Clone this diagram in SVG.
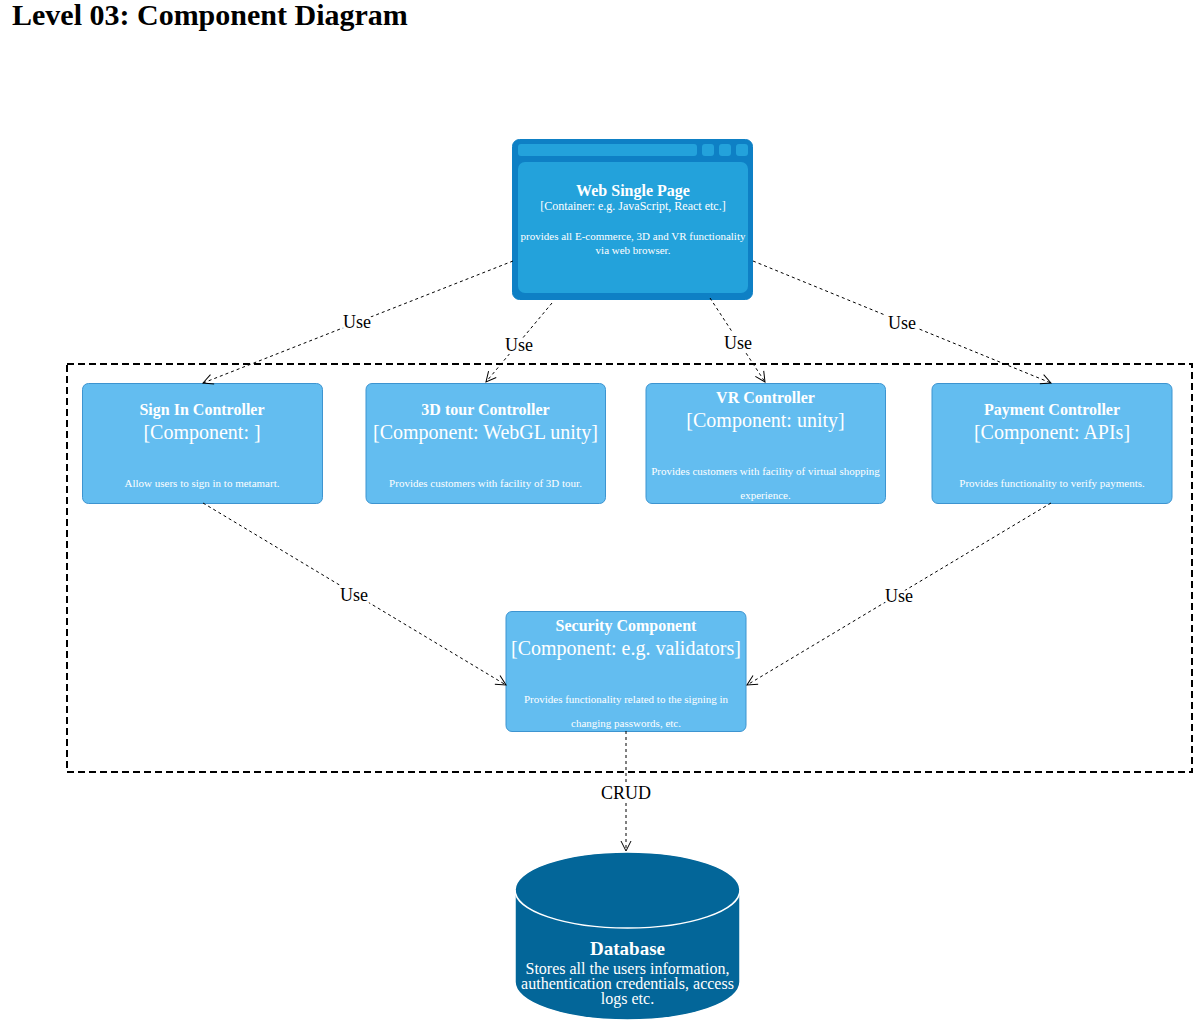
<svg xmlns="http://www.w3.org/2000/svg" width="1194" height="1024" viewBox="0 0 1194 1024">
<defs>
<style>
text{font-family:"Liberation Serif","Times New Roman",serif;text-anchor:middle}
.title{font-size:30px;font-weight:bold;text-anchor:start;fill:#000}
.comp{fill:#63bdf0;stroke:#3d94d0;stroke-width:1}
.nt{font-size:16px;font-weight:bold;fill:#fff}
.tech{font-size:20px;fill:#fff}
.desc{font-size:11px;fill:#fff}
.conn{fill:none;stroke:#000;stroke-width:1;stroke-dasharray:3,3}
.lbl{font-size:18px;fill:#000;stroke:#fff;stroke-width:6;paint-order:stroke;stroke-linejoin:round}
</style>
<marker id="arr" viewBox="0 0 12 12" refX="11" refY="6" markerWidth="12" markerHeight="12" markerUnits="userSpaceOnUse" orient="auto">
<path d="M1,1 L11,6 L1,11" fill="none" stroke="#000" stroke-width="1"/>
</marker>
</defs>
<rect width="1194" height="1024" fill="#fff"/>
<text class="title" x="12" y="25">Level 03: Component Diagram</text>

<g id="boundary">
<rect x="67" y="364" width="1125" height="408" fill="none" stroke="#000" stroke-width="2" stroke-dasharray="7,4"/>
</g>

<g id="web-single-page">
<rect x="512.5" y="139.5" width="240" height="160" rx="7" fill="#0e80c5" stroke="#0e80c5"/>
<rect x="518" y="144" width="179" height="12" rx="3" fill="#23a2db"/>
<rect x="702" y="144" width="12" height="12" rx="3" fill="#23a2db"/>
<rect x="719" y="144" width="12" height="12" rx="3" fill="#23a2db"/>
<rect x="736" y="144" width="12" height="12" rx="3" fill="#23a2db"/>
<rect x="518" y="162" width="230" height="131" rx="7" fill="#23a2db"/>
<text class="nt" x="633" y="196">Web Single Page</text>
<text x="633" y="210" font-size="12" fill="#fff">[Container: e.g. JavaScript, React etc.]</text>
<text class="desc" x="633" y="240">provides all E-commerce, 3D and VR functionality</text>
<text class="desc" x="633" y="254">via web browser.</text>
</g>

<g id="sign-in-controller">
<rect class="comp" x="82.5" y="383.5" width="240" height="120" rx="6"/>
<text class="nt" x="202" y="415">Sign In Controller</text>
<text class="tech" x="202" y="439">[Component: ]</text>
<text class="desc" x="202" y="487">Allow users to sign in to metamart.</text>
</g>

<g id="3d-tour-controller">
<rect class="comp" x="366" y="383.5" width="239.5" height="120" rx="6"/>
<text class="nt" x="485.5" y="415">3D tour Controller</text>
<text class="tech" x="485.5" y="439">[Component: WebGL unity]</text>
<text class="desc" x="485.5" y="487">Provides customers with facility of 3D tour.</text>
</g>

<g id="vr-controller">
<rect class="comp" x="646" y="383.5" width="239.5" height="120" rx="6"/>
<text class="nt" x="765.5" y="403">VR Controller</text>
<text class="tech" x="765.5" y="427">[Component: unity]</text>
<text class="desc" x="765.5" y="475">Provides customers with facility of virtual shopping</text>
<text class="desc" x="765.5" y="499">experience.</text>
</g>

<g id="payment-controller">
<rect class="comp" x="932" y="383.5" width="240" height="120" rx="6"/>
<text class="nt" x="1052" y="415">Payment Controller</text>
<text class="tech" x="1052" y="439">[Component: APIs]</text>
<text class="desc" x="1052" y="487">Provides functionality to verify payments.</text>
</g>

<g id="security-component">
<rect class="comp" x="506" y="611.5" width="240" height="120" rx="6"/>
<text class="nt" x="626" y="631">Security Component</text>
<text class="tech" x="626" y="655">[Component: e.g. validators]</text>
<text class="desc" x="626" y="703">Provides functionality related to the signing in</text>
<text class="desc" x="626" y="727">changing passwords, etc.</text>
</g>

<g id="database">
<path d="M515,890 A112.5,38 0 0,1 740,890 L740,982 A112.5,38 0 0,1 515,982 Z" fill="#036699" stroke="#fff" stroke-width="1.5"/>
<path d="M515,890 A112.5,38 0 0,0 740,890" fill="none" stroke="#fff" stroke-width="1.5"/>
<text x="627.5" y="955" font-size="19" font-weight="bold" fill="#fff">Database</text>
<text x="627.5" y="974" font-size="16" fill="#fff">Stores all the users information,</text>
<text x="627.5" y="989" font-size="16" fill="#fff">authentication credentials, access</text>
<text x="627.5" y="1004" font-size="16" fill="#fff">logs etc.</text>
</g>

<g id="connectors">
<line class="conn" x1="513" y1="261" x2="203" y2="383" marker-end="url(#arr)"/>
<line class="conn" x1="552" y1="303" x2="486" y2="382" marker-end="url(#arr)"/>
<line class="conn" x1="710" y1="298" x2="765" y2="382" marker-end="url(#arr)"/>
<line class="conn" x1="753" y1="261" x2="1051" y2="383" marker-end="url(#arr)"/>
<line class="conn" x1="203" y1="503" x2="506" y2="685" marker-end="url(#arr)"/>
<line class="conn" x1="1051" y1="503" x2="747" y2="685" marker-end="url(#arr)"/>
<line class="conn" x1="626" y1="731" x2="626" y2="851" marker-end="url(#arr)"/>
<text class="lbl" x="357" y="328">Use</text>
<text class="lbl" x="519" y="351">Use</text>
<text class="lbl" x="738" y="349">Use</text>
<text class="lbl" x="902" y="329">Use</text>
<text class="lbl" x="354" y="601">Use</text>
<text class="lbl" x="899" y="602">Use</text>
<text class="lbl" x="626" y="799">CRUD</text>
</g>
</svg>
